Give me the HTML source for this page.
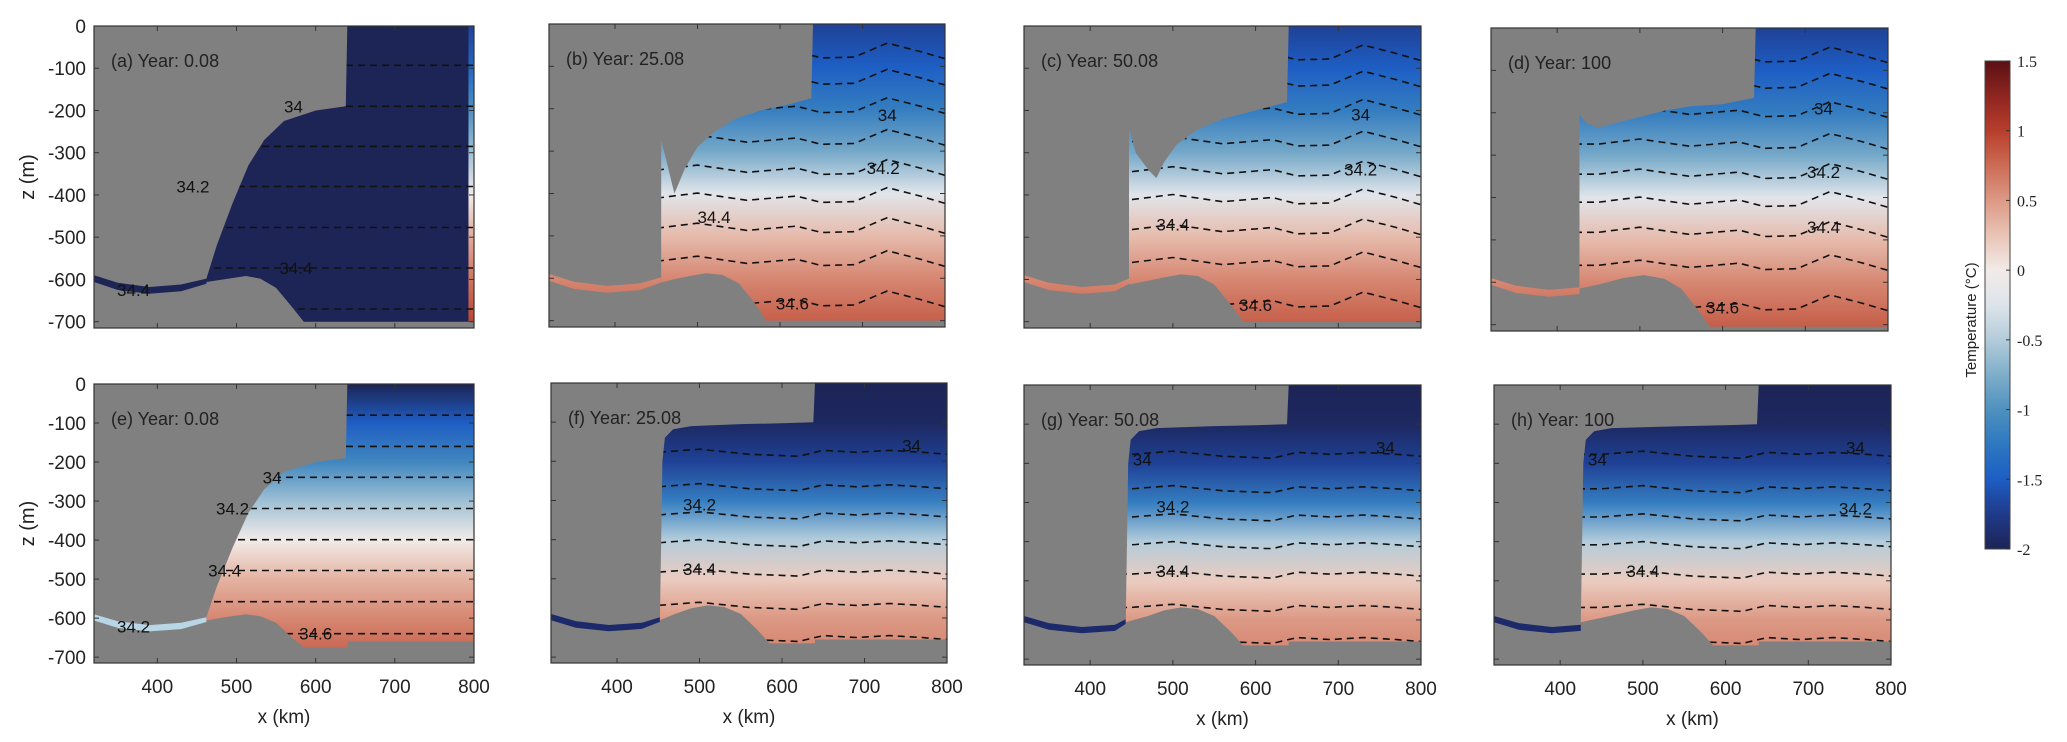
<!DOCTYPE html>
<html><head><meta charset="utf-8">
<style>
html,body{margin:0;padding:0;background:#fff;}
svg{display:block;}
text{font-family:"Liberation Sans",sans-serif;}
</style></head>
<body>
<svg id="fig" xmlns="http://www.w3.org/2000/svg" width="2067" height="742" viewBox="0 0 2067 742">
<defs id="defs"></defs>
</svg>
<script>
// ---------- data ----------
const xTicks = [400, 500, 600, 700, 800];
const zTicks = [0, -100, -200, -300, -400, -500, -600, -700];
const cbTicks = [1.5, 1, 0.5, 0, -0.5, -1, -1.5, -2];
const cmapT = [-2,-1.75,-1.5,-1.25,-1,-0.75,-0.5,-0.25,0,0.25,0.5,0.75,1,1.25,1.5];
const cmapC = ['#1d2456','#1f3a8a','#1e5ec4','#2d78c0','#4f91bf','#7eaeca','#b3ccda','#dde4ea','#f2ebe8','#e9c4b6','#dc9985','#cc6c55','#b73e2c','#8e2520','#5a1014'];

// temperature profiles (depth, temperature)
const profZ = [0, -100, -200, -300, -400, -500, -600, -715];
const profA = [-2, -2, -2, -2, -2, -2, -2, -2];
const profAStrip = [-1.7, -1.4, -1.0, -0.6, 0.0, 0.4, 0.7, 1.0];
const profE = [-2.0, -1.5, -1.1, -0.6, 0.0, 0.35, 0.6, 0.85];
const profTop = [-1.7, -1.5, -1.2, -0.8, -0.2, 0.3, 0.6, 0.85];
const profBot = [-2.0, -1.95, -1.7, -1.2, -0.5, 0.2, 0.5, 0.65];

// ice base (left->right) and seafloor (right->left) of main water body, plus cavity
const iceA = [[462,-598],[475,-520],[495,-420],[515,-330],[535,-270],[560,-225],[600,-200],[638,-190],[640,0],[800,0]];
const bedA = [[800,-700],[585,-700],[570,-665],[550,-620],[530,-598],[512,-592],[490,-598],[462,-606]];
const bedE = [[800,-660],[640,-660],[640,-675],[585,-675],[570,-650],[550,-612],[530,-595],[512,-590],[490,-596],[462,-606]];
const iceB = [[456,-612],[456,-275],[462,-320],[472,-400],[485,-340],[500,-290],[520,-255],[545,-225],[575,-205],[610,-190],[638,-175],[640,0],[800,0]];
const bedB = [[800,-700],[583,-700],[570,-660],[550,-612],[530,-592],[510,-588],[490,-595],[470,-603],[456,-610]];
const iceC = [[447,-612],[447,-240],[455,-300],[470,-340],[480,-360],[490,-320],[505,-280],[530,-245],[560,-220],[600,-200],[638,-180],[640,0],[800,0]];
const bedC = [[800,-700],[585,-700],[570,-660],[550,-612],[530,-592],[510,-588],[490,-595],[470,-603],[447,-612]];
const iceD = [[427,-615],[427,-205],[435,-225],[450,-235],[470,-225],[500,-210],[530,-195],[560,-185],[600,-180],[638,-165],[640,0],[800,0]];
const bedD = [[800,-705],[585,-705],[570,-665],[550,-615],[530,-592],[505,-583],[480,-590],[455,-603],[427,-615]];
const iceF = [[452,-610],[455,-200],[458,-140],[468,-118],[490,-110],[550,-105],[600,-103],[638,-100],[640,0],[800,0]];
const iceG = [[443,-610],[446,-200],[449,-140],[459,-118],[480,-110],[550,-105],[600,-103],[638,-100],[640,0],[800,0]];
const iceH = [[425,-610],[428,-200],[431,-140],[441,-118],[462,-110],[550,-105],[600,-103],[638,-100],[640,0],[800,0]];
const bedF = [[800,-655],[640,-655],[640,-665],[585,-665],[570,-630],[550,-590],[530,-572],[510,-568],[490,-575],[470,-590],[452,-606]];
const bedG = [[800,-655],[640,-655],[640,-665],[585,-665],[570,-630],[550,-590],[530,-572],[510,-568],[490,-575],[470,-590],[443,-606]];
const bedH = [[800,-655],[640,-655],[640,-665],[585,-665],[570,-630],[550,-590],[530,-572],[510,-568],[490,-575],[460,-590],[425,-606]];
const cavTop = [[320,-590],[350,-608],[390,-618],[430,-612],[465,-598]];
const cavBot = [[465,-610],[430,-628],[390,-634],[350,-625],[320,-606]];

// salinity contour depths and labels
const contA = [-93, -190, -285, -380, -477, -573, -670];
const contE = [-80, -160, -239, -319, -399, -478, -558, -640];
const contTop = [-70, -132, -199, -274, -345, -411, -482, -560, -655];
const contBot = [-177, -265, -337, -408, -483, -568, -650];
const waveX = [320, 450, 500, 560, 620, 650, 690, 730, 770, 800];
const waveTop = [0, 0, 12, -5, 5, -10, -8, 25, 5, -12];
const waveBot = [0, 0, 8, -5, -10, 5, 0, 5, 0, -5];
const labA = [[572,-190,'34'],[445,-380,'34.2'],[575,-573,'34.4'],[370,-625,'34.4']];
const labE = [[545,-239,'34'],[495,-319,'34.2'],[485,-478,'34.4'],[600,-640,'34.6'],[370,-622,'34.2']];
const labB = [[730,-215,'34'],[725,-340,'34.2'],[520,-455,'34.4'],[615,-660,'34.6']];
const labC = [[727,-210,'34'],[727,-340,'34.2'],[500,-470,'34.4'],[600,-660,'34.6']];
const labD = [[722,-190,'34'],[722,-340,'34.2'],[722,-470,'34.4'],[600,-660,'34.6']];
const labF = [[757,-160,'34'],[500,-310,'34.2'],[500,-475,'34.4']];
const labG = [[757,-160,'34'],[463,-190,'34'],[500,-310,'34.2'],[500,-475,'34.4']];
const labH = [[757,-160,'34'],[445,-190,'34'],[757,-315,'34.2'],[500,-475,'34.4']];

const panels = [
 {id:'a',l:94,r:474,t:26,b:328,title:'(a) Year: 0.08',prof:profA,ice:iceA,bed:bedA,cav:null,cont:contA,wave:null,lab:labA,strip:true,ylab:true,xlab:false},
 {id:'b',l:549,r:945,t:24,b:327,title:'(b) Year: 25.08',prof:profTop,ice:iceB,bed:bedB,cav:null,cont:contTop,wave:waveTop,lab:labB,ylab:false,xlab:false},
 {id:'c',l:1024,r:1421,t:26,b:328,title:'(c) Year: 50.08',prof:profTop,ice:iceC,bed:bedC,cav:null,cont:contTop,wave:waveTop,lab:labC,ylab:false,xlab:false},
 {id:'d',l:1491,r:1888,t:28,b:331,title:'(d) Year: 100',prof:profTop,ice:iceD,bed:bedD,cav:null,cont:contTop,wave:waveTop,lab:labD,ylab:false,xlab:false},
 {id:'e',l:94,r:474,t:384,b:663,title:'(e) Year: 0.08',prof:profE,ice:iceA,bed:bedE,cav:'#b8d6e6',cont:contE,wave:null,lab:labE,ylab:true,xlab:true},
 {id:'f',l:551,r:947,t:383,b:663,title:'(f) Year: 25.08',prof:profBot,ice:iceF,bed:bedF,cav:'#1c2a6b',cont:contBot,wave:waveBot,lab:labF,ylab:false,xlab:true},
 {id:'g',l:1024,r:1421,t:385,b:665,title:'(g) Year: 50.08',prof:profBot,ice:iceG,bed:bedG,cav:'#1c2a6b',cont:contBot,wave:waveBot,lab:labG,ylab:false,xlab:true},
 {id:'h',l:1494,r:1891,t:385,b:665,title:'(h) Year: 100',prof:profBot,ice:iceH,bed:bedH,cav:'#1c2a6b',cont:contBot,wave:waveBot,lab:labH,ylab:false,xlab:true}
];

// ---------- helpers ----------
const NS = 'http://www.w3.org/2000/svg';
const svg = document.getElementById('fig');
const defs = document.getElementById('defs');
function mk(tag, attrs, parent){
  const el = document.createElementNS(NS, tag);
  for (const k in attrs) el.setAttribute(k, attrs[k]);
  (parent || svg).appendChild(el);
  return el;
}
function hex2rgb(h){return [parseInt(h.substr(1,2),16),parseInt(h.substr(3,2),16),parseInt(h.substr(5,2),16)];}
function cmap(T){
  if (T <= cmapT[0]) return cmapC[0];
  for (let i=1;i<cmapT.length;i++){
    if (T <= cmapT[i]){
      const f=(T-cmapT[i-1])/(cmapT[i]-cmapT[i-1]);
      const a=hex2rgb(cmapC[i-1]), b=hex2rgb(cmapC[i]);
      return 'rgb('+a.map((v,j)=>Math.round(v+(b[j]-v)*f)).join(',')+')';
    }
  }
  return cmapC[cmapC.length-1];
}
function interp(xs, ys, x){
  if (x<=xs[0]) return ys[0];
  for (let i=1;i<xs.length;i++) if (x<=xs[i]) return ys[i-1]+(ys[i]-ys[i-1])*(x-xs[i-1])/(xs[i]-xs[i-1]);
  return ys[ys.length-1];
}
function gradient(id, p, prof){
  const g = mk('linearGradient',{id:id,gradientUnits:'userSpaceOnUse',x1:0,x2:0,y1:p.ys(0),y2:p.ys(-715)},defs);
  profZ.forEach((z,i)=>{ mk('stop',{offset:(-z/715),'stop-color':cmap(prof[i])},g); });
}

// ---------- panels ----------
panels.forEach(p=>{
  p.xs = km => p.l + (km-320)/480*(p.r-p.l);
  p.ys = z => p.t + (-z)/715*(p.b-p.t);
  const xg = p.ice[0][0];
  const grp = mk('g',{});
  
  
  const bg = mk('rect',{x:p.l,y:p.t,width:p.r-p.l,height:p.b-p.t,fill:'#808080'},grp);
  
  
  gradient('grad-'+p.id, p, p.prof);
  const poly = p.ice.concat(p.bed).map(q=>p.xs(q[0]).toFixed(1)+','+p.ys(q[1]).toFixed(1)).join(' ');
  const cavPoly = cavTop.concat(cavBot).map(q=>p.xs(Math.min(q[0],xg)).toFixed(1)+','+p.ys(q[1]).toFixed(1)).join(' ');
  const clip = mk('clipPath',{id:'clip-'+p.id},defs);
  mk('polygon',{points:poly},clip);
  mk('polygon',{points:cavPoly},clip);
  const cavEl = mk('polygon',{points:cavPoly,fill:p.cav||('url(#grad-'+p.id+')')},grp);
  
  
  const water = mk('polygon',{points:poly,fill:'url(#grad-'+p.id+')'},grp);
  
  
  if (p.strip){
    gradient('grad-strip-'+p.id, p, profAStrip);
    const st = mk('rect',{x:p.xs(793),y:p.ys(0),width:p.xs(800)-p.xs(793),height:p.ys(-700)-p.ys(0),fill:'url(#grad-strip-'+p.id+')'},grp);
    
    
  }
  // contours
  const cg = mk('g',{'clip-path':'url(#clip-'+p.id+')'},grp);
  
  
  p.cont.forEach(z=>{
    const pts=[];
    for (let x=320;x<=800;x+=5){
      const dz = p.wave ? interp(waveX, p.wave, x) : 0;
      pts.push(p.xs(x).toFixed(1)+','+p.ys(z+dz).toFixed(1));
    }
    const ln = mk('polyline',{points:pts.join(' '),fill:'none',stroke:'#111','stroke-width':1.6,'stroke-dasharray':'7 5'},cg);
    
    
  });
  p.lab.forEach(L=>{
    const t = mk('text',{x:p.xs(L[0]),y:p.ys(L[1])+6,'font-size':17,fill:'#111','text-anchor':'middle'},grp);
    t.textContent = L[2];
    
    
  });
  // frame
  const fr = mk('rect',{x:p.l,y:p.t,width:p.r-p.l,height:p.b-p.t,fill:'none',stroke:'#333','stroke-width':1.2},grp);
  
  
  xTicks.forEach(v=>{
    const x=p.xs(v);
    mk('line',{x1:x,x2:x,y1:p.b,y2:p.b-5,stroke:'#333'},grp);
    mk('line',{x1:x,x2:x,y1:p.t,y2:p.t+5,stroke:'#333'},grp);
    if (p.xlab){
      const t=mk('text',{x:x,y:p.b+30,'font-size':19,fill:'#222','text-anchor':'middle'},grp);
      t.textContent=v;
      
      
    }
  });
  zTicks.forEach(v=>{
    const y=p.ys(v);
    mk('line',{x1:p.l,x2:p.l+5,y1:y,y2:y,stroke:'#333'},grp);
    mk('line',{x1:p.r,x2:p.r-5,y1:y,y2:y,stroke:'#333'},grp);
    if (p.ylab){
      const t=mk('text',{x:p.l-8,y:y+7,'font-size':19,fill:'#222','text-anchor':'end'},grp);
      t.textContent=v;
      
      
    }
  });
  if (p.ylab){
    const cy=(p.t+p.b)/2;
    const t=mk('text',{x:34,y:cy,'font-size':20,fill:'#222','text-anchor':'middle',transform:'rotate(-90 34 '+cy+')'},grp);
    t.textContent='z (m)';
    
    
  }
  if (p.xlab){
    const cx=(p.l+p.r)/2;
    const t=mk('text',{x:cx,y:p.b+60,'font-size':19,fill:'#222','text-anchor':'middle'},grp);
    t.textContent='x (km)';
    
    
  }
  const tt=mk('text',{x:p.l+17,y:p.t+41,'font-size':18,fill:'#222'},grp);
  tt.textContent=p.title;
  
  
});

// ---------- colorbar ----------
const cb = {l:1985,r:2010,t:61,b:549};
const cbY = T => cb.t + (1.5-T)/3.5*(cb.b-cb.t);
const cgr = mk('linearGradient',{id:'cbgrad',x1:0,x2:0,y1:0,y2:1},defs);
for (let i=cmapT.length-1;i>=0;i--) mk('stop',{offset:(1.5-cmapT[i])/3.5,'stop-color':cmapC[i]},cgr);
const cbg = mk('g',{});


const cbr = mk('rect',{x:cb.l,y:cb.t,width:cb.r-cb.l,height:cb.b-cb.t,fill:'url(#cbgrad)',stroke:'#444','stroke-width':1},cbg);


cbTicks.forEach(T=>{
  const y=cbY(T);
  mk('line',{x1:cb.r-4,x2:cb.r,y1:y,y2:y,stroke:'#333'},cbg);
  const t=mk('text',{x:cb.r+7,y:y+6,'font-size':16,fill:'#222',style:'font-family:"Liberation Serif",serif'},cbg);
  t.textContent=T;
  
  
});
const ct = mk('text',{x:1976,y:320,'font-size':15,fill:'#222','text-anchor':'middle',transform:'rotate(-90 1976 320)'},cbg);
ct.textContent='Temperature (°C)';


</script>
</body></html>
